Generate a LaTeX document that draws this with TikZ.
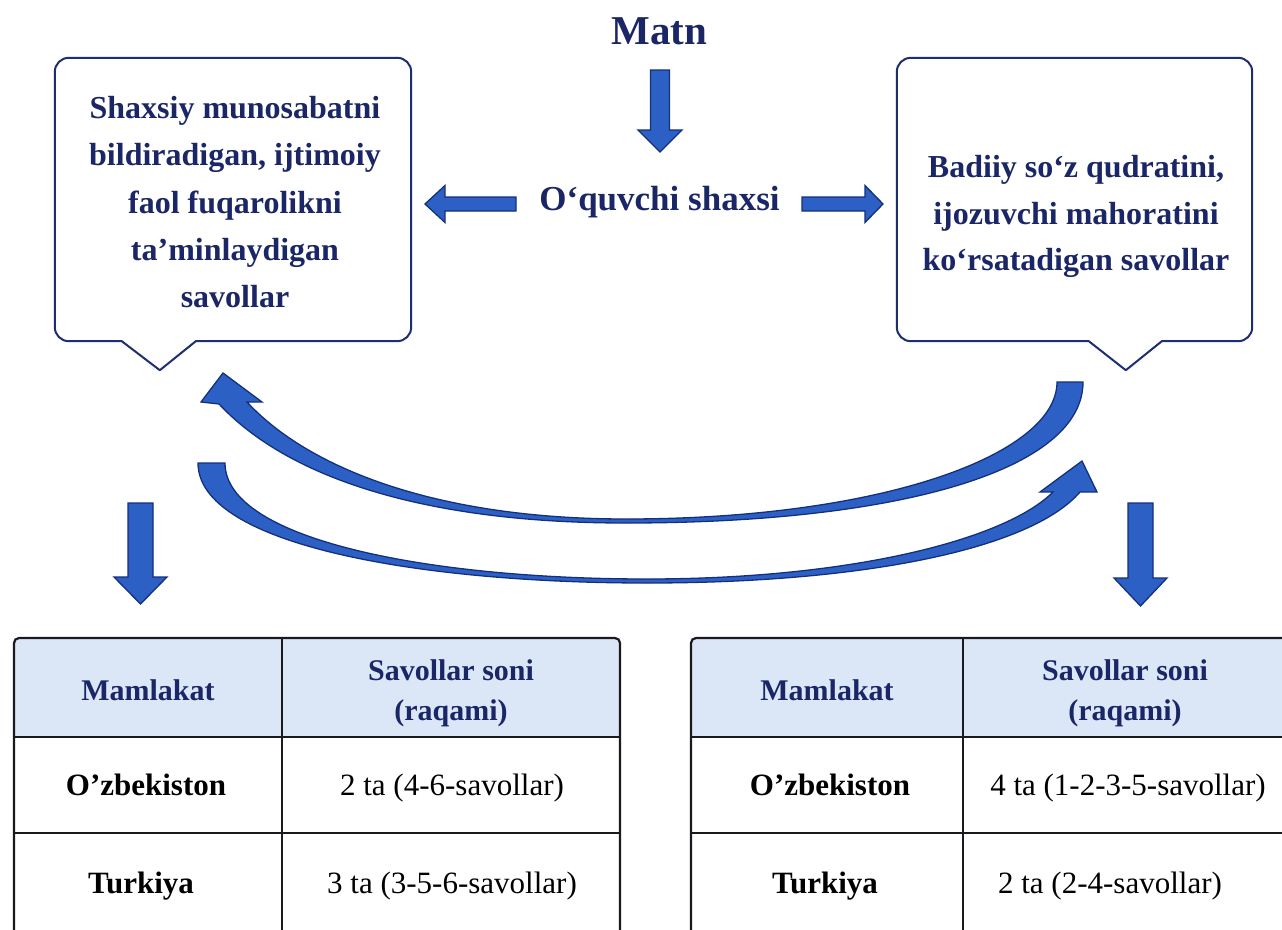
\documentclass[tikz,border=0pt]{standalone}
\usepackage{fontspec}
\setmainfont{Liberation Serif}
\usetikzlibrary{calc}
\definecolor{navy}{RGB}{26,38,102}
\definecolor{boxline}{RGB}{30,46,112}
\definecolor{arrfill}{RGB}{45,96,196}
\definecolor{arrline}{RGB}{20,48,125}
\definecolor{hdrfill}{RGB}{219,231,247}
\definecolor{tblline}{RGB}{25,25,30}
\begin{document}
\begin{tikzpicture}[x=1pt,y=-1pt,
  blockarrow/.style={fill=arrfill,draw=arrline,line width=1.3pt,line join=miter},
  callout/.style={draw=boxline,line width=2pt,fill=white,line join=round},
  boxslot/.style={minimum width=#1,minimum height=283pt,inner sep=0pt,draw=none},
  calltext/.style={inner sep=0pt,text=navy,align=center,font=\bfseries\fontsize{32}{#1}\selectfont},
  title/.style={inner sep=0pt,text=navy,anchor=base,font=\bfseries\fontsize{#1}{#1}\selectfont},
  tbl/.style={draw=tblline,line width=2.2pt},
  tblin/.style={draw=tblline,line width=1.8pt},
  hdr/.style={inner sep=0pt,text=navy,align=center,font=\bfseries\fontsize{30}{40}\selectfont},
  cellb/.style={inner sep=0pt,anchor=base,text=black,font=\bfseries\fontsize{31}{31}\selectfont},
  cellr/.style={inner sep=0pt,anchor=base,text=black,font=\fontsize{31}{31}\selectfont}]
\useasboundingbox[fill=white] (0,0) rectangle (1282,929);

% --- titles
\node[title=41] (matn) at (659.5,44) {Matn};
\node[title=35] (oquv) at (659.5,210) {O‘quvchi shaxsi};

% --- callouts
\node[boxslot=356pt] (Lbox) at (233,199.5) {};
\node[boxslot=355pt] (Rbox) at (1074.5,199.5) {};
\path (Lbox.south west) ++(67,0) coordinate (L0)
      (Lbox.south west) ++(105,29) coordinate (Ltip)
      (Lbox.south west) ++(141,0) coordinate (L1);
\path (Rbox.south west) ++(192,0) coordinate (R0)
      (Rbox.south west) ++(229,29) coordinate (Rtip)
      (Rbox.south west) ++(265,0) coordinate (R1);
\draw[callout] (L0) -- (Ltip) -- (L1) [rounded corners=14pt] -- (Lbox.south east) -- (Lbox.north east)
   -- (Lbox.north west) -- (Lbox.south west) [sharp corners] -- cycle;
\draw[callout] (R0) -- (Rtip) -- (R1) [rounded corners=14pt] -- (Rbox.south east) -- (Rbox.north east)
   -- (Rbox.north west) -- (Rbox.south west) [sharp corners] -- cycle;

\node[calltext=47.3, anchor=north] (Ltxt) at (235,96.2)
  {Shaxsiy munosabatni\\bildiradigan, ijtimoiy\\faol fuqarolikni\\ta’minlaydigan\\savollar};
\node[calltext=46.5, anchor=north] (Rtxt) at (1076,155.2)
  {Badiiy so‘z qudratini,\\ijozuvchi mahoratini\\ko‘rsatadigan savollar};

% --- straight block arrows
\filldraw[blockarrow] (650.5,70) -- (669.5,70) -- (669.5,130) -- (682,130) -- (660,152)
   -- (638,130) -- (650.5,130) -- cycle;
\filldraw[blockarrow] (516,197) -- (445,197) -- (445,185.5) -- (425,204) -- (445,222.5)
   -- (445,211) -- (516,211) -- cycle;
\filldraw[blockarrow] (802,197) -- (865,197) -- (865,185.5) -- (883,204) -- (865,222.5)
   -- (865,211) -- (802,211) -- cycle;
\filldraw[blockarrow] (128,503) -- (153,503) -- (153,577) -- (167,577) -- (140.5,604)
   -- (114,577) -- (128,577) -- cycle;
\filldraw[blockarrow] (1128,503) -- (1153,503) -- (1153,578) -- (1167,578) -- (1140.5,606)
   -- (1114,578) -- (1128,578) -- cycle;

% --- curved arrows
\filldraw[blockarrow] (1057,382) -- (1083,382)
   .. controls (1083,470) and (900,523) .. (626,523)
   .. controls (430,523) and (290,480) .. (219,404)
   -- (201,402) -- (223,373) -- (262,402) -- (247,402)
   .. controls (310,470) and (440,519) .. (626,519)
   .. controls (880,519) and (1057,455) .. (1057,382) -- cycle;
\filldraw[blockarrow] (198,463) -- (225,463)
   .. controls (225,540) and (430,579) .. (647,579)
   .. controls (850,579) and (1005,540) .. (1053,492)
   -- (1040,492) -- (1082,461) -- (1097,492) -- (1080,492)
   .. controls (1030,550) and (860,583) .. (647,583)
   .. controls (420,583) and (198,545) .. (198,463) -- cycle;

% --- left table
\fill[hdrfill] (14,737) [rounded corners=5pt] -- (14,638) -- (620,638) -- (620,737) [sharp corners] -- cycle;
\draw[tblin] (14,737) -- (620,737) (14,833) -- (620,833) (282,638) -- (282,960);
\draw[tbl] (14,960) [rounded corners=5pt] -- (14,638) -- (620,638) -- (620,960);
\node[hdr, anchor=base] (LtH1) at (148,700) {Mamlakat};
\node[hdr, anchor=north] (LtH2) at (451,659.7) {Savollar soni\\(raqami)};
\node[cellb] (LtA1) at (146,795) {O’zbekiston};
\node[cellr] (LtB1) at (452,795) {2 ta (4-6-savollar)};
\node[cellb] (LtA2) at (141,893) {Turkiya};
\node[cellr] (LtB2) at (452,893) {3 ta (3-5-6-savollar)};

% --- right table
\fill[hdrfill] (691,737) [rounded corners=5pt] -- (691,638) -- (1300,638) -- (1300,737) [sharp corners] -- cycle;
\draw[tblin] (691,737) -- (1300,737) (691,833) -- (1300,833) (963,638) -- (963,960);
\draw[tbl] (691,960) [rounded corners=5pt] -- (691,638) -- (1300,638) -- (1300,960);
\node[hdr, anchor=base] (RtH1) at (827,700) {Mamlakat};
\node[hdr, anchor=north] (RtH2) at (1125,659.7) {Savollar soni\\(raqami)};
\node[cellb] (RtA1) at (830,795) {O’zbekiston};
\node[cellr] (RtB1) at (1128,795) {4 ta (1-2-3-5-savollar)};
\node[cellb] (RtA2) at (825,893) {Turkiya};
\node[cellr] (RtB2) at (1110,893) {2 ta (2-4-savollar)};
\end{tikzpicture}
\end{document}
